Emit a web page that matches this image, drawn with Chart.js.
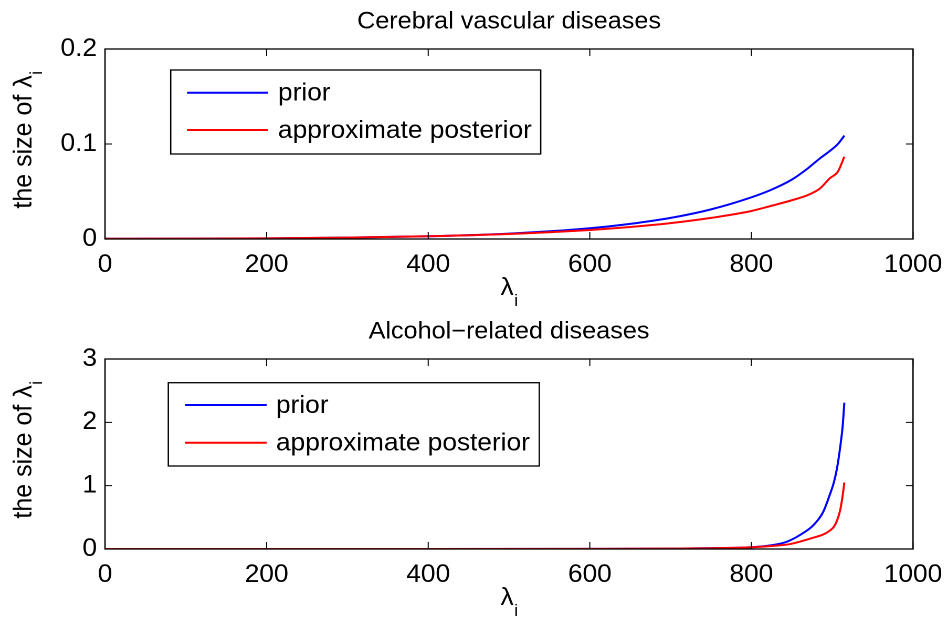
<!DOCTYPE html>
<html>
<head>
<meta charset="utf-8">
<script src="https://cdn.jsdelivr.net/npm/chart.js@4/dist/chart.umd.min.js"></script>
<style>
  html, body { margin: 0; padding: 0; background: #fff; }
  #fig { position: relative; width: 948px; height: 621px; overflow: hidden; background: #fff; }
  #fig canvas { position: absolute; left: 0; transform-origin: 0 0; }
</style>
</head>
<body>
<div id="fig">
  <canvas id="top" style="top:0px"></canvas>
  <canvas id="bottom" style="top:310px"></canvas>
</div>
<script>
// ---- data: sorted sizes of lambda_i, prior vs approximate posterior ----
const xTicks = [0, 200, 400, 600, 800, 1000];

const cerebralIndex = [0, 100, 200, 300, 400, 500, 600, 650, 700, 750, 800, 825, 850, 870, 885, 897, 907, 915];
const cerebralPrior = [0.0002, 0.0004, 0.0007, 0.0015, 0.0029, 0.0057, 0.0113, 0.0159, 0.0222, 0.0312, 0.0439, 0.052, 0.0625, 0.0745, 0.085, 0.0926, 0.100, 0.1088];
const cerebralPost  = [0.0002, 0.0004, 0.0007, 0.0014, 0.0029, 0.0053, 0.0095, 0.0126, 0.0167, 0.0222, 0.0295, 0.035, 0.0408, 0.0463, 0.0533, 0.0639, 0.0709, 0.0866];
const cerebralYTicks = [0, 0.1, 0.2];

const alcoholIndex = [0, 200, 400, 600, 700, 750, 800, 827, 844, 860, 877, 889, 897, 902, 906, 910, 913, 915];
const alcoholPrior = [0, 0.0001, 0.0005, 0.002, 0.006, 0.013, 0.027, 0.063, 0.116, 0.22, 0.38, 0.59, 0.857, 1.05, 1.28, 1.62, 1.95, 2.31];
const alcoholPost  = [0, 0.0001, 0.0005, 0.002, 0.006, 0.012, 0.027, 0.05, 0.07, 0.116, 0.18, 0.23, 0.29, 0.35, 0.45, 0.62, 0.85, 1.05];
const alcoholYTicks = [0, 1, 2, 3];

const seriesNames = ['prior', 'approximate posterior'];
const seriesColors = ['#0000ff', '#ff0000'];

// ---- layout: the canvases are drawn narrow and widened by SX on screen ----
const SX = 1.05;
const FONT = "'Liberation Sans', Arial, Helvetica, sans-serif";
const FIG_W = 948;
const W = Math.round(FIG_W / SX);
const sx = v => v * W / FIG_W;              // screen x -> canvas x
const AREA = { left: sx(105), right: sx(913), top: 49, bottom: 239 };
const TICK = 7;
const TICK_FONT = 25, TITLE_FONT = 24, LABEL_FONT = 25, SUB_FONT = 17, LEGEND_FONT = 25;

Chart.defaults.color = '#000';
Chart.defaults.font.family = FONT;

const pts = (xs, ys) => xs.map((x, i) => ({ x, y: ys[i] }));

// frame, inner tick marks, title, axis labels and legend in MATLAB style
const figurePlugin = {
  id: 'figureDecor',
  afterDraw(chart, args, opts) {
    const ctx = chart.ctx;
    const { left, right, top, bottom } = chart.chartArea;
    const xs = chart.scales.x, ys = chart.scales.y;
    ctx.save();
    ctx.strokeStyle = '#000';
    ctx.lineWidth = 1.3;
    ctx.strokeRect(left, top, right - left, bottom - top);
    ctx.lineWidth = 1;
    ctx.beginPath();
    xs.ticks.forEach(t => {
      const px = xs.getPixelForValue(t.value);
      ctx.moveTo(px, bottom); ctx.lineTo(px, bottom - TICK);
      ctx.moveTo(px, top); ctx.lineTo(px, top + TICK);
    });
    ys.ticks.forEach(t => {
      const py = ys.getPixelForValue(t.value);
      ctx.moveTo(left, py); ctx.lineTo(left + sx(TICK), py);
      ctx.moveTo(right, py); ctx.lineTo(right - sx(TICK), py);
    });
    ctx.stroke();

    const cx = (left + right) / 2;
    ctx.fillStyle = '#000';
    // title
    ctx.font = `${TITLE_FONT}px ${FONT}`;
    ctx.textAlign = 'center';
    ctx.textBaseline = 'alphabetic';
    ctx.fillText(opts.title, cx, 28.5);

    // x-axis label: lambda with subscript i
    const main = 'λ', sub = 'i';
    ctx.font = `${LABEL_FONT}px ${FONT}`;
    const wm = ctx.measureText(main).width;
    ctx.font = `${SUB_FONT}px ${FONT}`;
    const wsub = ctx.measureText(sub).width;
    const x0 = cx - (wm + wsub) / 2;
    ctx.textAlign = 'left';
    ctx.font = `${LABEL_FONT}px ${FONT}`;
    ctx.fillText(main, x0, 295);
    ctx.font = `${SUB_FONT}px ${FONT}`;
    ctx.fillText(sub, x0 + wm + 0.5, 306);

    // y-axis label, rotated
    const ytext = 'the size of λ';
    ctx.font = `${LABEL_FONT}px ${FONT}`;
    const wy = ctx.measureText(ytext).width;
    ctx.font = `${SUB_FONT}px ${FONT}`;
    const wyi = ctx.measureText(sub).width;
    ctx.save();
    ctx.translate(sx(31.5), (top + bottom) / 2 - 4);
    ctx.rotate(-Math.PI / 2);
    const y0 = -(wy + wyi) / 2;
    ctx.font = `${LABEL_FONT}px ${FONT}`;
    ctx.fillText(ytext, y0, 0);
    ctx.font = `${SUB_FONT}px ${FONT}`;
    ctx.fillText(sub, y0 + wy + 0.5, 10);
    ctx.restore();

    // legend box
    const L = opts.legend;
    ctx.fillStyle = '#fff';
    ctx.fillRect(sx(L.left), L.top, sx(L.right - L.left), L.bottom - L.top);
    ctx.strokeStyle = '#000';
    ctx.lineWidth = 1.3;
    ctx.strokeRect(sx(L.left), L.top, sx(L.right - L.left), L.bottom - L.top);
    ctx.font = `${LEGEND_FONT}px ${FONT}`;
    ctx.textBaseline = 'middle';
    ctx.textAlign = 'left';
    seriesNames.forEach((name, i) => {
      const ly = L.rows[i];
      ctx.strokeStyle = seriesColors[i];
      ctx.lineWidth = 2;
      ctx.beginPath();
      ctx.moveTo(sx(L.lineFrom), ly); ctx.lineTo(sx(L.lineTo), ly);
      ctx.stroke();
      ctx.fillStyle = '#000';
      ctx.fillText(name, sx(L.textX), ly + 1);
    });
    ctx.restore();
  }
};

function makePanel(canvasId, title, xs, prior, post, yTicks, legend, canvasH) {
  const canvas = document.getElementById(canvasId);
  canvas.width = W;
  canvas.height = canvasH;
  canvas.style.transform = `scaleX(${FIG_W / W})`;
  const yMax = yTicks[yTicks.length - 1];
  return new Chart(canvas, {
    type: 'line',
    data: {
      datasets: [
        { label: seriesNames[0], data: pts(xs, prior), borderColor: seriesColors[0], order: 1 },
        { label: seriesNames[1], data: pts(xs, post), borderColor: seriesColors[1], order: 0 }
      ]
    },
    options: {
      responsive: false,
      devicePixelRatio: 2,
      animation: false,
      elements: {
        point: { radius: 0 },
        line: { borderWidth: 2, cubicInterpolationMode: 'monotone', fill: false }
      },
      layout: { padding: { top: AREA.top, right: W - AREA.right, left: 0, bottom: 0 } },
      plugins: {
        legend: { display: false },
        tooltip: { enabled: false },
        figureDecor: { title, legend }
      },
      scales: {
        x: {
          type: 'linear',
          min: xTicks[0], max: xTicks[xTicks.length - 1],
          afterBuildTicks: s => { s.ticks = xTicks.map(v => ({ value: v })); },
          ticks: { font: { size: TICK_FONT }, padding: 11, maxRotation: 0, color: '#000', callback: v => String(v) },
          grid: { display: false, drawTicks: false },
          border: { display: false },
          afterFit: s => { s.height = canvasH - AREA.bottom; s.paddingLeft = 0; s.paddingRight = 0; }
        },
        y: {
          type: 'linear',
          min: 0, max: yMax,
          afterBuildTicks: s => { s.ticks = yTicks.map(v => ({ value: v })); },
          ticks: { font: { size: TICK_FONT }, padding: sx(8), color: '#000', callback: v => String(v) },
          grid: { display: false, drawTicks: false },
          border: { display: false },
          afterFit: s => { s.width = AREA.left; s.paddingTop = 0; s.paddingBottom = 0; }
        }
      }
    },
    plugins: [figurePlugin]
  });
}

makePanel('top', 'Cerebral vascular diseases', cerebralIndex, cerebralPrior, cerebralPost, cerebralYTicks,
  { left: 170.7, right: 540.7, top: 70, bottom: 154, rows: [92.7, 130], lineFrom: 187, lineTo: 268, textX: 278 }, 310);

makePanel('bottom', 'Alcohol\u2212related diseases', alcoholIndex, alcoholPrior, alcoholPost, alcoholYTicks,
  { left: 168.3, right: 539.3, top: 72.7, bottom: 156, rows: [95, 132.7], lineFrom: 185, lineTo: 266.7, textX: 276 }, 311);
</script>
</body>
</html>
